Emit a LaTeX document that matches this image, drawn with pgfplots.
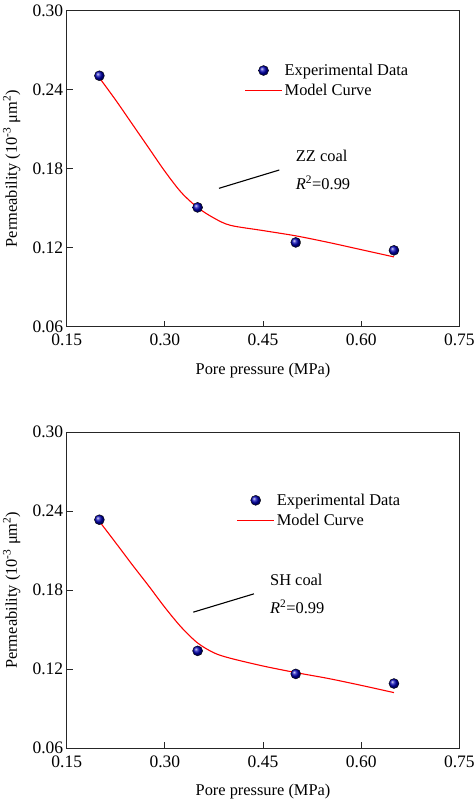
\documentclass[border=0pt]{standalone}
\usepackage{fontspec}
\setmainfont{Liberation Serif}
\usepackage{pgfplots}
\pgfplotsset{compat=1.18}
\usetikzlibrary{shadings}
\begin{document}
\begin{tikzpicture}
\useasboundingbox (0pt,0pt) rectangle (474pt,800pt);
\pgfplotsset{
  myaxis/.style={
    scale only axis, width=392.7pt, height=316pt,
    xmin=0.15, xmax=0.75, ymin=0.06, ymax=0.30,
    xtick={0.15,0.30,0.45,0.60,0.75},
    ytick={0.06,0.12,0.18,0.24,0.30},
    xticklabels={0.15,0.30,0.45,0.60,0.75},
    yticklabels={0.06,0.12,0.18,0.24,0.30},
    tick align=inside, major tick length=6pt,
    xtick pos=bottom, ytick pos=left,
    axis line style={line width=0.9pt, black!85},
    tick style={line width=0.9pt, black!85},
    tick label style={font=\fontsize{17.5}{20}\selectfont},
    x tick label style={yshift=-4pt},
    /pgf/number format/assume math mode=true,
    label style={font=\fontsize{16.4}{19.5}\selectfont},
    xlabel={Pore pressure (MPa)},
    ylabel={Permeability (10\textsuperscript{-3} μm\textsuperscript{2})},
    x label style={at={(axis description cs:0.5,-0.138)}, anchor=center},
    y label style={at={(axis description cs:-0.14,0.5)}, anchor=center, rotate=0},
    legend style={draw=none, fill=none, inner sep=0pt, row sep=3pt,
      font=\fontsize{16.4}{19.5}\selectfont},
    legend cell align=left,
  },
  datast/.style={only marks, mark=ball, mark size=5pt,
    mark options={ball color=blue!70!black},
    legend image code/.code={\draw[##1, mark repeat=2, mark phase=2] plot coordinates {(0pt,0pt) (18.5pt,0pt) (37pt,0pt)};}},
  modelst/.style={red, line width=1.1pt, smooth, tension=0.5, no marks,
    legend image code/.code={\draw[draw=red, line width=1.3pt] (0pt,0pt) -- (37pt,0pt);}},
}
% top chart
\begin{axis}[myaxis, at={(66.7pt,473.3pt)}, anchor=south west,
  legend style={at={(axis description cs:0.452,0.838)}, anchor=north west}]
\addplot[datast] coordinates {(0.20,0.2506) (0.35,0.1506) (0.50,0.1240) (0.65,0.1180)};
\addlegendentry{Experimental Data}
\addplot[modelst] coordinates {
(0.20,0.249) (0.225,0.232) (0.25,0.214) (0.275,0.196) (0.30,0.178)
(0.325,0.162) (0.35,0.1505) (0.375,0.1425) (0.40,0.137) (0.45,0.133)
(0.50,0.129) (0.55,0.124) (0.60,0.1185) (0.65,0.113)};
\addlegendentry{Model Curve}
\addplot[black, line width=1.1pt, forget plot] coordinates {(0.3827,0.1651) (0.4748,0.1790)};
\node[anchor=west, inner sep=0pt, font=\fontsize{16.4}{19.5}\selectfont] at (axis cs:0.500,0.1896) {ZZ coal};
\node[anchor=west, inner sep=0pt, font=\fontsize{16.4}{19.5}\selectfont] at (axis cs:0.500,0.1694) {\textit{R}\textsuperscript{2}=0.99};
\end{axis}
% bottom chart
\begin{axis}[myaxis, at={(66.7pt,51.7pt)}, anchor=south west,
  legend style={at={(axis description cs:0.432,0.812)}, anchor=north west}]
\addplot[datast] coordinates {(0.20,0.2336) (0.35,0.1340) (0.50,0.1165) (0.65,0.1092)};
\addlegendentry{Experimental Data}
\addplot[modelst] coordinates {
(0.20,0.2323) (0.225,0.216) (0.25,0.1995) (0.275,0.1835) (0.30,0.167)
(0.325,0.152) (0.35,0.140) (0.375,0.1325) (0.40,0.1284) (0.45,0.1225)
(0.50,0.1175) (0.55,0.113) (0.60,0.1078) (0.65,0.1023)};
\addlegendentry{Model Curve}
\addplot[black, line width=1.1pt, forget plot] coordinates {(0.3434,0.1634) (0.436,0.1773)};
\node[anchor=west, inner sep=0pt, font=\fontsize{16.4}{19.5}\selectfont] at (axis cs:0.4606,0.188) {SH coal};
\node[anchor=west, inner sep=0pt, font=\fontsize{16.4}{19.5}\selectfont] at (axis cs:0.4606,0.1677) {\textit{R}\textsuperscript{2}=0.99};
\end{axis}
\end{tikzpicture}
\end{document}
